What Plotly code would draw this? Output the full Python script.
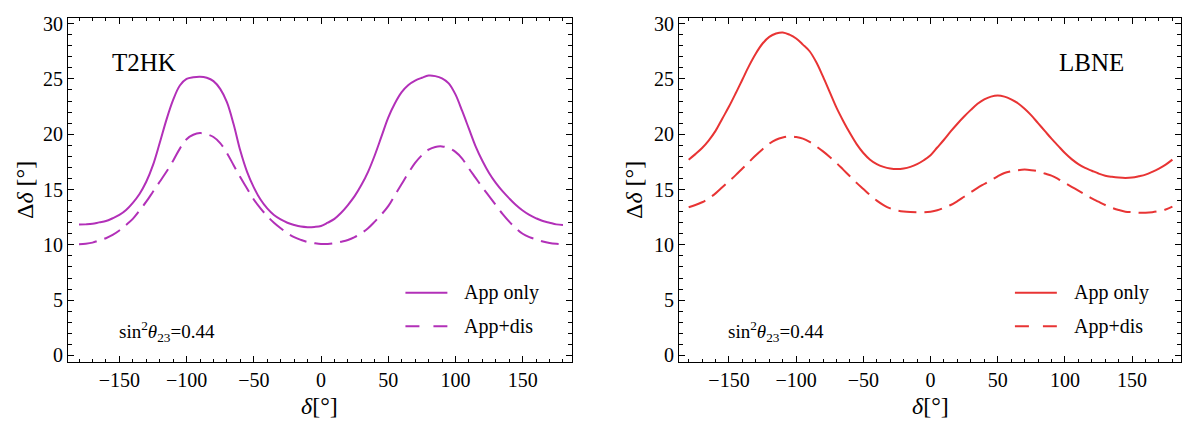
import plotly.graph_objects as go

# CP phase grid (degrees)
delta = list(range(-180, 181, 5))

# T2HK: precision on delta
t2hk_app = [11.83, 11.85, 11.9, 12.03, 12.15, 12.4, 12.7, 13.15, 13.8, 14.6,
            15.7, 17.2, 19.2, 21.3, 23.1, 24.4, 25.0, 25.15, 25.2, 25.1,
            24.8, 24.1, 22.9, 20.9, 18.5, 16.6, 15.2, 14.1, 13.3, 12.7,
            12.3, 12.0, 11.8, 11.65, 11.6, 11.62, 11.7, 12.0, 12.35, 12.9,
            13.6, 14.4, 15.4, 16.6, 18.1, 19.8, 21.5, 22.8, 23.8, 24.45,
            24.85, 25.1, 25.3, 25.25, 25.05, 24.6, 23.6, 22.1, 20.5, 18.9,
            17.6, 16.5, 15.6, 14.85, 14.2, 13.6, 13.1, 12.7, 12.4, 12.15,
            12.0, 11.85, 11.8]
t2hk_dis = [10.05, 10.1, 10.2, 10.4, 10.6, 10.9, 11.3, 11.8, 12.35, 13.1,
            13.9, 14.8, 15.7, 16.6, 17.6, 18.7, 19.55, 19.95, 20.1, 20.0,
            19.75, 19.2, 18.3, 17.2, 16.1, 15.1, 14.1, 13.3, 12.6, 12.0,
            11.5, 11.05, 10.7, 10.45, 10.25, 10.15, 10.08, 10.08, 10.15, 10.28,
            10.44, 10.7, 11.05, 11.5, 12.1, 12.75, 13.5, 14.5, 15.5, 16.5,
            17.4, 18.1, 18.6, 18.85, 18.9, 18.75, 18.4, 17.8, 16.9, 16.05,
            15.2, 14.4, 13.6, 12.8, 12.1, 11.5, 11.0, 10.7, 10.5, 10.3,
            10.17, 10.1, 10.07]

# LBNE: precision on delta
lbne_app = [17.7, 18.2, 18.75, 19.45, 20.3, 21.4, 22.5, 23.7, 24.95, 26.2,
            27.3, 28.2, 28.8, 29.1, 29.2, 29.0, 28.65, 28.1, 27.5, 26.5,
            25.2, 23.8, 22.4, 21.2, 20.1, 19.1, 18.3, 17.7, 17.3, 17.05,
            16.9, 16.85, 16.9, 17.05, 17.3, 17.65, 18.1, 18.8, 19.5, 20.25,
            20.95, 21.6, 22.2, 22.75, 23.15, 23.4, 23.5, 23.4, 23.15, 22.8,
            22.3, 21.7, 21.0, 20.3, 19.6, 18.95, 18.3, 17.75, 17.3, 16.95,
            16.7, 16.45, 16.25, 16.15, 16.08, 16.05, 16.08, 16.2, 16.35, 16.6,
            16.9, 17.25, 17.7]
lbne_dis = [13.4, 13.6, 13.85, 14.2, 14.65, 15.2, 15.75, 16.3, 16.9, 17.5,
            18.1, 18.65, 19.15, 19.5, 19.7, 19.8, 19.75, 19.6, 19.3, 18.9,
            18.45, 17.95, 17.4, 16.8, 16.2, 15.6, 15.05, 14.5, 14.0, 13.6,
            13.3, 13.12, 13.02, 12.97, 12.95, 12.95, 13.0, 13.12, 13.35, 13.6,
            13.95, 14.35, 14.75, 15.15, 15.5, 15.85, 16.2, 16.5, 16.65, 16.75,
            16.8, 16.75, 16.65, 16.45, 16.25, 15.95, 15.6, 15.25, 14.9, 14.55,
            14.2, 13.9, 13.6, 13.35, 13.15, 13.0, 12.95, 12.9, 12.9, 12.95,
            13.05, 13.2, 13.45]

x_ticks = [-150, -100, -50, 0, 50, 100, 150]
y_ticks = [0, 5, 10, 15, 20, 25, 30]

experiments = ["T2HK", "LBNE"]
series_names = ["App only", "App+dis"]
param_label = "sin<sup>2</sup><i>θ</i><sub>23</sub>=0.44"

PURPLE = "rgb(178,48,184)"
RED = "rgb(232,52,52)"
FONT = "Liberation Serif, Times New Roman, Times, serif"
W, H = 1182, 428

fig = go.Figure()

panels = [
    dict(app=t2hk_app, dis=t2hk_dis, color=PURPLE, xa="x", ya="y"),
    dict(app=lbne_app, dis=lbne_dis, color=RED, xa="x2", ya="y2"),
]
for p in panels:
    fig.add_trace(go.Scatter(x=delta, y=p["app"], mode="lines", xaxis=p["xa"], yaxis=p["ya"],
                             line=dict(color=p["color"], width=2, shape="spline", smoothing=1.0),
                             name=series_names[0], showlegend=False, hoverinfo="skip"))
    fig.add_trace(go.Scatter(x=delta, y=p["dis"], mode="lines", xaxis=p["xa"], yaxis=p["ya"],
                             line=dict(color=p["color"], width=2, shape="spline", smoothing=1.0,
                                       dash="18px,8px"),
                             name=series_names[1], showlegend=False, hoverinfo="skip"))

axis_common = dict(
    showline=True, linecolor="black", linewidth=1.2, mirror="ticks",
    ticks="inside", ticklen=6, tickwidth=1, tickcolor="black",
    showgrid=False, zeroline=False,
    tickfont=dict(family=FONT, size=20, color="black"),
)
xaxis_common = dict(axis_common, tickmode="array", tickvals=x_ticks,
                    minor=dict(dtick=10, tick0=0, ticklen=3.5, ticks="inside", tickcolor="black", showgrid=False))
yaxis_common = dict(axis_common, tickmode="array", tickvals=y_ticks,
                    minor=dict(dtick=1, tick0=0, ticklen=3.5, ticks="inside", tickcolor="black", showgrid=False))

py0, py1 = 1 - 365 / H, 1 - 13 / H
fig.update_layout(
    width=W, height=H,
    margin=dict(l=0, r=0, t=0, b=0),
    paper_bgcolor="white", plot_bgcolor="white",
    showlegend=False,
    xaxis=dict(xaxis_common, domain=[68 / W, 572 / W], range=[-188.2, 186.7], anchor="y"),
    yaxis=dict(yaxis_common, domain=[py0, py1], range=[-0.62, 30.53], anchor="x"),
    xaxis2=dict(xaxis_common, domain=[679 / W, 1181 / W], range=[-187.2, 186.4], anchor="y2"),
    yaxis2=dict(yaxis_common, domain=[py0, py1], range=[-0.62, 30.53], anchor="x2"),
)

annotations = []
shapes = []
panel_cfg = [
    dict(xref="x", yref="y", color=PURPLE, name=experiments[0], name_x=-132,
         ytitle_px=25, xtitle_px=319),
    dict(xref="x2", yref="y2", color=RED, name=experiments[1], name_x=119.6,
         ytitle_px=634, xtitle_px=930),
]
for c in panel_cfg:
    # experiment name
    annotations.append(dict(x=c["name_x"], y=26.5, xref=c["xref"], yref=c["yref"],
                            xanchor="center", yanchor="middle",
                            text=c["name"], showarrow=False,
                            font=dict(family=FONT, size=25, color="black")))
    # oscillation parameter label
    annotations.append(dict(x=-152, y=2.2, xref=c["xref"], yref=c["yref"],
                            xanchor="left", yanchor="middle",
                            text=param_label, showarrow=False,
                            font=dict(family=FONT, size=19, color="black")))
    # legend rows
    for row, (label, dash) in enumerate(zip(series_names, ["solid", "14px,14px"])):
        ly = 5.66 if row == 0 else 2.65
        shapes.append(dict(type="line", xref=c["xref"], yref=c["yref"], x0=62.8, x1=94.0, y0=ly, y1=ly,
                           line=dict(color=c["color"], width=2, dash=dash)))
        annotations.append(dict(x=105, y=ly, xref=c["xref"], yref=c["yref"],
                                xanchor="left", yanchor="middle",
                                text=label, showarrow=False,
                                font=dict(family=FONT, size=20, color="black")))
    # axis titles
    annotations.append(dict(x=c["ytitle_px"] / W, y=1 - 189 / H, xref="paper", yref="paper",
                            xanchor="center", yanchor="middle",
                            text="Δ<i>δ</i> [°]", textangle=-90, showarrow=False,
                            font=dict(family=FONT, size=24, color="black")))
    annotations.append(dict(x=c["xtitle_px"] / W, y=1 - 410 / H, xref="paper", yref="paper",
                            xanchor="center", yanchor="middle",
                            text="<i>δ</i>[°]", showarrow=False,
                            font=dict(family=FONT, size=24, color="black")))

fig.update_layout(annotations=annotations, shapes=shapes)

fig.write_html("out.html")
